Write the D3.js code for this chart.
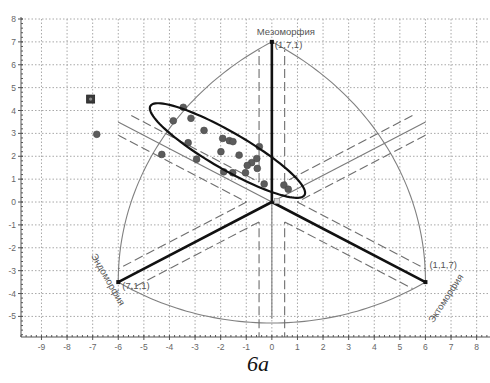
<!DOCTYPE html>
<html><head><meta charset="utf-8">
<script src="https://cdn.jsdelivr.net/npm/d3@7"></script>
<style>body{margin:0;background:#fff} svg{display:block}</style>
</head><body>
<svg id="c" width="490" height="383"></svg>
<script>
// ---- data ----
const xTicks = [-9,-8,-7,-6,-5,-4,-3,-2,-1,0,1,2,3,4,5,6,7,8];
const yTicks = [-5,-4,-3,-2,-1,0,1,2,3,4,5,6,7,8];
const vertexNames = ["Мезоморфия","Эндоморфия","Эктоморфия"];
const vertexCodes = ["(1,7,1)","(7,1,1)","(1,1,7)"];
const vertexX = [0,-6,6];
const vertexY = [7,-3.5,-3.5];
const arcFrom = [1,1,2];      // arc end vertex indices
const arcTo   = [0,2,0];
const arcSagitta = [1.62,1.79,1.62];
const bandHalfWidth = 0.5;
const bandReach = 6.65;
const dotX = [-3.46,-3.85,-3.16,-2.65,-1.92,-1.66,-1.52,-3.27,-4.30,-1.99,-1.28,-0.49,-2.94,-0.59,-0.79,-0.96,-0.57,-1.88,-1.53,-1.03,-0.30,0.47,0.64,-6.84];
const dotY = [4.14,3.55,3.66,3.13,2.78,2.68,2.64,2.59,2.08,2.20,2.05,2.42,1.87,1.90,1.72,1.60,1.47,1.32,1.28,1.28,0.79,0.74,0.56,2.96];
const squareX = [-7.08];
const squareY = [4.50];
const centerMarkX = [0.2], centerMarkY = [0.05];
// ellipse: center and two conjugate half-axes (data units)
const ellCenter = [-1.734, 2.251];
const ellMajor = [3.011, -1.945];
const ellMinor = [-0.361, -0.700];
const caption = "6a";

// ---- scales ----
const svg = d3.select("#c");
const x = d3.scaleLinear().domain([-9.8, 8.6]).range([21, 492]);
const y = d3.scaleLinear().domain([-5.9, 8]).range([337, 19]);
const L = 21, R = 490, T = 19, B = 337;

svg.append("defs").append("clipPath").attr("id","clip")
  .append("rect").attr("x",L).attr("y",T).attr("width",R-L).attr("height",B-T);

// grid
const grid = svg.append("g").attr("stroke","#a8a8a8").attr("stroke-width",1).attr("stroke-dasharray","1.5,2");
grid.selectAll("line.v").data(xTicks).join("line")
  .attr("x1",d=>x(d)).attr("x2",d=>x(d)).attr("y1",T).attr("y2",B);
grid.selectAll("line.h").data(yTicks).join("line")
  .attr("x1",L).attr("x2",R).attr("y1",d=>y(d)).attr("y2",d=>y(d));

const plot = svg.append("g").attr("clip-path","url(#clip)");
const line = d3.line().x(d=>x(d[0])).y(d=>y(d[1]));

// arcs (circle through endpoints + bulge point)
function circleFrom3(p1,p2,p3){
  const ax=p1[0],ay=p1[1],bx=p2[0],by=p2[1],cx=p3[0],cy=p3[1];
  const d=2*(ax*(by-cy)+bx*(cy-ay)+cx*(ay-by));
  const ux=((ax*ax+ay*ay)*(by-cy)+(bx*bx+by*by)*(cy-ay)+(cx*cx+cy*cy)*(ay-by))/d;
  const uy=((ax*ax+ay*ay)*(cx-bx)+(bx*bx+by*by)*(ax-cx)+(cx*cx+cy*cy)*(bx-ax))/d;
  return [ux,uy,Math.hypot(ax-ux,ay-uy)];
}
arcFrom.forEach((a,i)=>{
  const b = arcTo[i];
  const A=[vertexX[a],vertexY[a]], Bv=[vertexX[b],vertexY[b]];
  const mx=(A[0]+Bv[0])/2, my=(A[1]+Bv[1])/2;
  let nx=-(Bv[1]-A[1]), ny=(Bv[0]-A[0]); const nl=Math.hypot(nx,ny); nx/=nl; ny/=nl;
  if (nx*mx+ny*my<0){nx=-nx;ny=-ny;}
  const P=[mx+nx*arcSagitta[i], my+ny*arcSagitta[i]];
  const c=circleFrom3(A,P,Bv);
  let a1=Math.atan2(A[1]-c[1],A[0]-c[0]), a2=Math.atan2(Bv[1]-c[1],Bv[0]-c[0]), am=Math.atan2(P[1]-c[1],P[0]-c[0]);
  // choose sweep passing through am
  const norm=v=>{while(v<0)v+=2*Math.PI; while(v>=2*Math.PI)v-=2*Math.PI; return v;};
  let d12=norm(a2-a1), d1m=norm(am-a1);
  let sweep = d1m<d12 ? d12 : d12-2*Math.PI;
  const pts=d3.range(0,61).map(k=>{const t=a1+sweep*k/60; return [c[0]+c[2]*Math.cos(t), c[1]+c[2]*Math.sin(t)];});
  plot.append("path").attr("d",line(pts)).attr("fill","none").attr("stroke","#808080").attr("stroke-width",1.1);
});

// axis directions
const dirs = vertexX.map((vx,i)=>{const l=Math.hypot(vx,vertexY[i]); return [vx/l, vertexY[i]/l];});
// dashed bands
const bandLines=[];
dirs.forEach((d,i)=>{[1,-1].forEach(s=>{
  const n=[-d[1],d[0]];
  bandLines.push({i, p:[n[0]*s*bandHalfWidth, n[1]*s*bandHalfWidth], d});
});});
const cross=(a,b)=>a[0]*b[1]-a[1]*b[0];
bandLines.forEach(bl=>{
  const ts=[];
  bandLines.forEach(o=>{ if(o.i===bl.i) return;
    const diff=[o.p[0]-bl.p[0], o.p[1]-bl.p[1]];
    ts.push(cross(diff,o.d)/cross(bl.d,o.d));
  });
  const t0=d3.min(ts), t1=d3.max(ts);
  const P=t=>[bl.p[0]+bl.d[0]*t, bl.p[1]+bl.d[1]*t];
  [[-bandReach,t0],[t1,bandReach]].forEach(seg=>{
    plot.append("path").attr("d",line([P(seg[0]),P(seg[1])]))
      .attr("stroke","#6e6e6e").attr("stroke-width",1.1).attr("fill","none").attr("stroke-dasharray","9,4");
  });
});
// thin gray extensions (opposite of each vertex)
const extReach=[5.1, 6.95, 6.95];
dirs.forEach((d,i)=>{
  plot.append("path").attr("d",line([[0,0],[-d[0]*extReach[i],-d[1]*extReach[i]]]))
    .attr("stroke","#7a7a7a").attr("stroke-width",1.1);
});
// thick axes
vertexX.forEach((vx,i)=>{
  plot.append("path").attr("d",line([[0,0],[vx,vertexY[i]]]))
    .attr("stroke","#111").attr("stroke-width",2.6).attr("stroke-linecap","round");
  plot.append("rect").attr("x",x(vx)-2).attr("y",y(vertexY[i])-2).attr("width",4).attr("height",4).attr("fill","#111");
});
plot.selectAll("rect.cm").data(centerMarkX).join("rect")
  .attr("x",(d)=>x(d)-2.5).attr("y",(d,i)=>y(centerMarkY[i])-2.5).attr("width",5).attr("height",5)
  .attr("fill","#ddd").attr("stroke","#999").attr("stroke-width",0.8);

// ellipse
const ellPts=d3.range(0,121).map(k=>{const t=2*Math.PI*k/120;
  return [ellCenter[0]+ellMajor[0]*Math.cos(t)+ellMinor[0]*Math.sin(t),
          ellCenter[1]+ellMajor[1]*Math.cos(t)+ellMinor[1]*Math.sin(t)];});
// dots
plot.selectAll("circle.dot").data(dotX).join("circle")
  .attr("cx",d=>x(d)).attr("cy",(d,i)=>y(dotY[i])).attr("r",3.4)
  .attr("fill","#5c5c5c").attr("stroke","#484848").attr("stroke-width",0.6);
plot.append("path").attr("d",line(ellPts)+"Z").attr("fill","none").attr("stroke","#111").attr("stroke-width",2.2);
// square
plot.selectAll("rect.sq").data(squareX).join("rect")
  .attr("x",d=>x(d)-4).attr("y",(d,i)=>y(squareY[i])-4).attr("width",8).attr("height",8)
  .attr("fill","#3a3a3a").attr("stroke","#222").attr("stroke-width",0.8);
plot.selectAll("circle.sqc").data(squareX).join("circle")
  .attr("cx",d=>x(d)).attr("cy",(d,i)=>y(squareY[i])).attr("r",1.6).attr("fill","#8a8a8a");

// axes
const ax = svg.append("g").attr("stroke","#555").attr("stroke-width",1);
ax.append("line").attr("x1",L).attr("x2",L).attr("y1",T-2).attr("y2",B);
ax.append("line").attr("x1",L).attr("x2",R).attr("y1",B).attr("y2",B);
const minorX=d3.range(-49,43).map(k=>k/5), minorY=d3.range(-29,41).map(k=>k/5);
ax.selectAll("line.mx").data(minorX).join("line")
  .attr("x1",d=>x(d)).attr("x2",d=>x(d)).attr("y1",B).attr("y2",B-2);
ax.selectAll("line.my").data(minorY).join("line")
  .attr("x1",L).attr("x2",L+2).attr("y1",d=>y(d)).attr("y2",d=>y(d));
ax.selectAll("line.Mx").data(xTicks).join("line")
  .attr("x1",d=>x(d)).attr("x2",d=>x(d)).attr("y1",B-2).attr("y2",B+3);
ax.selectAll("line.My").data(yTicks).join("line")
  .attr("x1",L-3).attr("x2",L+2).attr("y1",d=>y(d)).attr("y2",d=>y(d));

const tf = "Liberation Sans, Arial, sans-serif";
svg.append("g").selectAll("text").data(xTicks).join("text")
  .attr("x",d=>x(d)).attr("y",B+13).attr("text-anchor","middle")
  .attr("font-family",tf).attr("font-size",8.5).attr("fill","#666").text(d=>d);
svg.append("g").selectAll("text").data(yTicks).join("text")
  .attr("x",L-5).attr("y",d=>y(d)+3).attr("text-anchor","end")
  .attr("font-family",tf).attr("font-size",8.5).attr("fill","#666").text(d=>d);

// vertex labels
const lab = svg.append("g").attr("font-family",tf).attr("font-size",9.5).attr("fill","#555");
lab.append("text").attr("x",x(vertexX[0])+14).attr("y",y(vertexY[0])-7).attr("text-anchor","middle").text(vertexNames[0]);
lab.append("text").attr("x",x(vertexX[0])+3).attr("y",y(vertexY[0])+6).text(vertexCodes[0]);
lab.append("text").attr("x",x(vertexX[1])+4).attr("y",y(vertexY[1])+7).text(vertexCodes[1]);
lab.append("text").attr("x",x(vertexX[2])+4).attr("y",y(vertexY[2])-14).text(vertexCodes[2]);
lab.append("text").attr("text-anchor","middle")
  .attr("transform",`translate(${x(vertexX[1])-13},${y(vertexY[1])-1}) rotate(60)`).text(vertexNames[1]);
lab.append("text").attr("text-anchor","middle")
  .attr("transform",`translate(${x(vertexX[2])+23},${y(vertexY[2])+18}) rotate(-57)`).text(vertexNames[2]);

svg.append("text").attr("x",258).attr("y",371).attr("text-anchor","middle")
  .attr("font-family","Liberation Serif, Times New Roman, serif").attr("font-style","italic")
  .attr("font-size",22).attr("fill","#111").text(caption);
</script>
</body></html>
